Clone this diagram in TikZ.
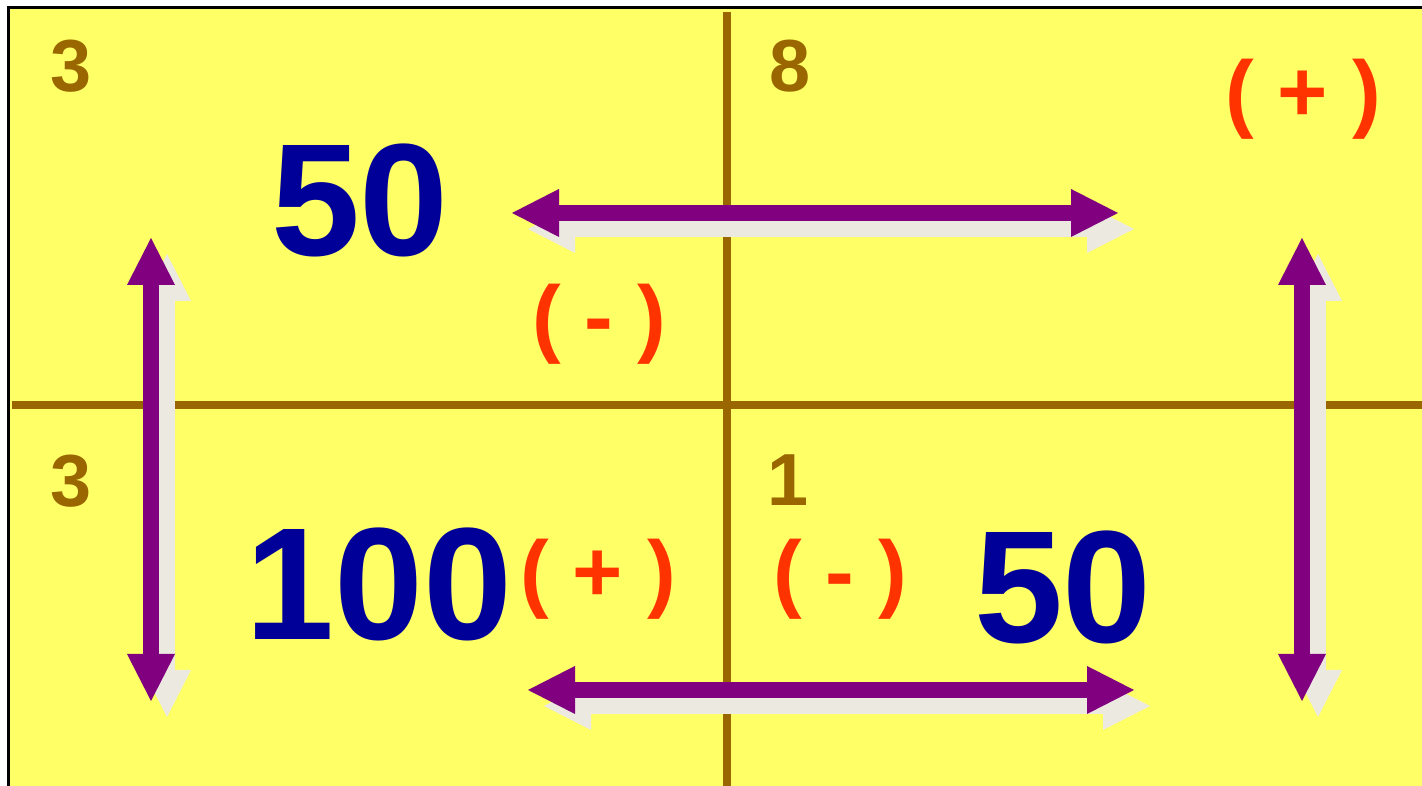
\documentclass[tikz,border=0pt]{standalone}
\usepackage{fontspec}
\setmainfont{Liberation Sans}
\usetikzlibrary{arrows.meta}
\definecolor{padyellow}{HTML}{FFFF66}
\definecolor{axisbrown}{HTML}{996600}
\definecolor{flowpurple}{HTML}{800080}
\definecolor{shadegray}{HTML}{ECE9E0}
\definecolor{numblue}{HTML}{000099}
\definecolor{signred}{HTML}{FF3300}
\begin{document}
\begin{tikzpicture}[
    cellnum/.style={inner sep=0pt, anchor=base, text=axisbrown, font=\fontsize{21}{24}\selectfont\bfseries},
    bignum/.style={inner sep=0pt, anchor=base, text=numblue, font=\fontsize{45.5}{50}\selectfont\bfseries},
    sign/.style={inner sep=0pt, anchor=base, text=signred, font=\fontsize{24.5}{28}\selectfont\bfseries},
    axis/.style={axisbrown, line width=0.08cm},
    flow/.style={flowpurple, line width=0.16cm, {Triangle[length=4.7mm, width=4.8mm, line width=0pt]}-{Triangle[length=4.7mm, width=4.8mm, line width=0pt]}},
    backdrop/.style={flow, shadegray}
]
\clip (0,0) rectangle (14.22,7.86);
\draw[fill=padyellow, line width=0.03cm] (0.085,-0.5) rectangle (14.6,7.785);

\coordinate (v-top) at (7.27,7.74);
\coordinate (v-bottom) at (7.27,0);
\coordinate (h-left) at (0.12,3.81);
\coordinate (h-right) at (14.22,3.81);
\draw[axis] (v-top) -- (v-bottom);
\draw[axis] (h-left) -- (h-right);

\coordinate (top-west) at (5.12,5.73);
\coordinate (top-east) at (11.18,5.73);
\coordinate (low-west) at (5.28,0.96);
\coordinate (low-east) at (11.34,0.96);
\coordinate (left-north) at (1.51,5.48);
\coordinate (left-south) at (1.51,0.85);
\coordinate (right-north) at (13.02,5.48);
\coordinate (right-south) at (13.02,0.85);

\draw[backdrop] ([shift={(0.16,-0.16)}]top-west) -- ([shift={(0.16,-0.16)}]top-east);
\draw[backdrop] ([shift={(0.16,-0.16)}]low-west) -- ([shift={(0.16,-0.16)}]low-east);
\draw[backdrop] ([shift={(0.16,-0.16)}]left-north) -- ([shift={(0.16,-0.16)}]left-south);
\draw[backdrop] ([shift={(0.16,-0.16)}]right-north) -- ([shift={(0.16,-0.16)}]right-south);
\draw[flow] (top-west) -- (top-east);
\draw[flow] (low-west) -- (low-east);
\draw[flow] (left-north) -- (left-south);
\draw[flow] (right-north) -- (right-south);

\node[cellnum] (count-nw) at (0.71,6.94) {3};
\node[cellnum] (count-ne) at (7.90,6.94) {8};
\node[cellnum] (count-sw) at (0.71,2.79) {3};
\node[cellnum] (count-se) at (7.88,2.80) {1};

\node[bignum] (value-top) at (3.60,5.30) {50};
\node[bignum] (value-left) at (3.79,1.46) {100};
\node[bignum] (value-right) at (10.63,1.43) {50};

\node[sign] (sign-ne) at (13.03,6.64) {( + )};
\node[sign] (sign-top) at (5.99,4.39) {( - )};
\node[sign] (sign-left) at (5.98,1.84) {( + )};
\node[sign] (sign-right) at (8.40,1.84) {( - )};
\end{tikzpicture}
\end{document}
